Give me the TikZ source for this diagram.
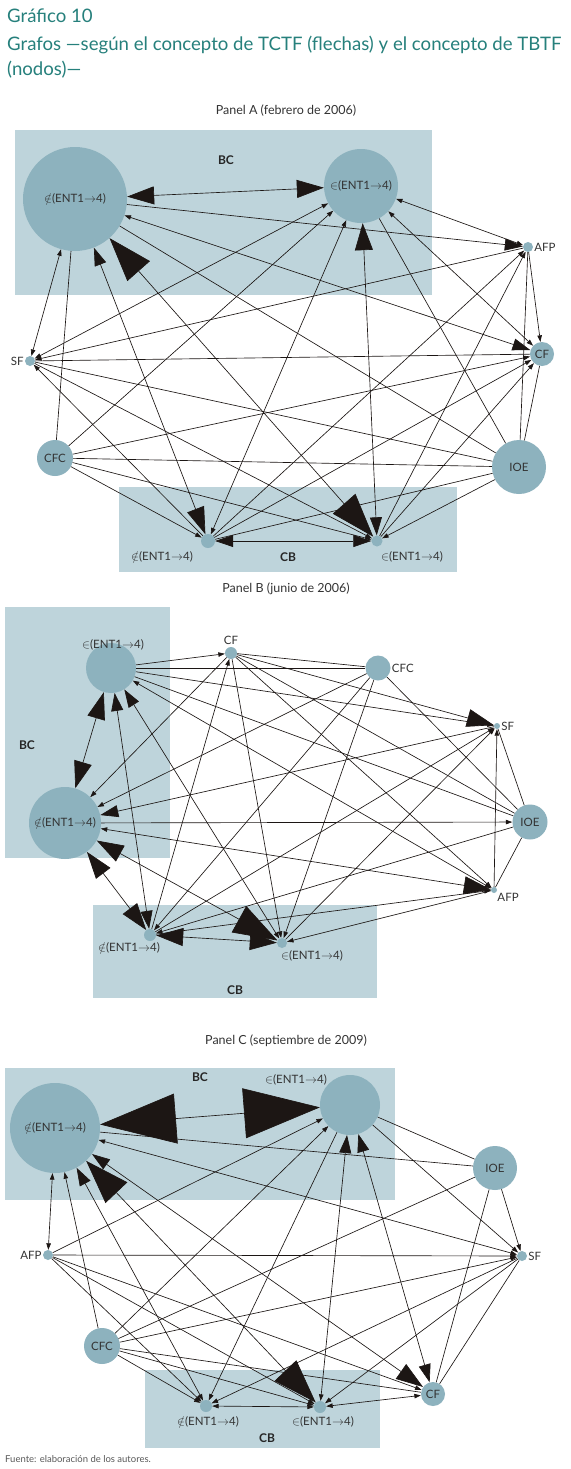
\documentclass[tikz,border=0pt]{standalone}
\usepackage{fontspec}
\setmainfont{Lato}
\usetikzlibrary{arrows.meta}
\definecolor{boxc}{RGB}{190,212,219}
\definecolor{nodec}{RGB}{141,178,190}
\definecolor{titc}{RGB}{38,128,124}
\definecolor{inkc}{RGB}{28,22,20}
\newcommand{\lbN}{$\notin$(ENT1$\rightarrow$4)}
\newcommand{\lbI}{$\in$(ENT1$\rightarrow$4)}
\tikzset{
  ts/.tip={Triangle[length=6.5pt,width=4.5pt]},
  tm/.tip={Triangle[length=18pt,width=12pt]},
  tb/.tip={Triangle[length=27pt,width=18pt]},
  th/.tip={Triangle[length=44pt,width=30pt]},
  tx/.tip={Triangle[length=76pt,width=50pt]},
  nd/.style={circle, fill=nodec, draw=none, inner sep=0pt, font=\fontsize{11.5}{13}\selectfont, text=black!80},
  lab/.style={font=\fontsize{11.5}{13}\selectfont, text=black!80, inner sep=1pt},
  grp/.style={fill=boxc, draw=none},
  grl/.style={font=\bfseries\fontsize{12}{13}\selectfont, text=black!85},
  ptitle/.style={font=\fontsize{12.5}{14}\selectfont, text=black!80, anchor=base},
  ttl/.style={anchor=base west, inner sep=0, text=titc, font=\fontsize{18.6}{21}\selectfont},
  ln/.style={draw=inkc, line width=0.65pt},
}
\begin{document}
\begin{tikzpicture}[x=1pt,y=-1pt]
\useasboundingbox[fill=white] (0,0) rectangle (570,1469);
% ---------- titles ----------
\node[ttl] (t1) at (7,23) {Gráfico 10};
\node[ttl] (t2) at (7,51) {Grafos —según el concepto de TCTF (flechas) y el concepto de TBTF};
\node[ttl] (t3) at (7,76) {(nodos)—};

% ================= PANEL A =================
\node[ptitle] (pa) at (286,115) {Panel A (febrero de 2006)};
\fill[grp] (15,130) rectangle (432,295);
\fill[grp] (119,487) rectangle (457,572);
\node[grl] (bca) at (226,160) {BC};
\node[grl] (cba) at (288,557) {CB};
\node[nd, minimum size=104] (anb) at (75,199) {\lbN};
\node[nd, minimum size=74] (aib) at (361,186) {\lbI};
\node[nd, minimum size=10, label={[lab]right:AFP}] (aafp) at (528,247) {};
\node[nd, minimum size=24] (acf) at (542,354) {CF};
\node[nd, minimum size=10, label={[lab]left:SF}] (asf) at (30,361) {};
\node[nd, minimum size=36] (acfc) at (55,458) {CFC};
\node[nd, minimum size=54] (aioe) at (519,467) {IOE};
\node[nd, minimum size=14] (anc) at (208,541) {};
\node[nd, minimum size=11] (aic) at (377,541) {};
\node[lab] (anclab) at (162,557) {\lbN};
\node[lab] (aiclab) at (412,557) {\lbI};

\draw[ln, tb-tb] (anb) -- (aib);
\draw[ln, -tm] (anb) -- (aafp);
\draw[ln, ts-tm] (anb) -- (acf);
\draw[ln, ts-ts] (anb) -- (asf);
\draw[ln] (anb) -- (acfc);
\draw[ln, tm-tb] (anb) -- (anc);
\draw[ln, th-th] (anb) -- (aic);
\draw[ln] (anb) -- (aioe);
\draw[ln, ts-ts] (aib) -- (aafp);
\draw[ln, ts-ts] (aib) -- (acf);
\draw[ln] (aib) -- (aioe);
\draw[ln, ts-ts] (aib) -- (asf);
\draw[ln, ts-ts] (aib) -- (anc);
\draw[ln, -ts] (acfc) -- (aib);
\draw[ln, tb-tm] (aib) -- (aic);
\draw[ln, -ts] (aafp) -- (asf);
\draw[ln, -ts] (aafp) -- (acf);
\draw[ln] (aafp) -- (aioe);
\draw[ln] (acf) -- (aioe);
\draw[ln] (asf) -- (acf);
\draw[ln] (asf) -- (aioe);
\draw[ln, -ts] (asf) -- (aic);
\draw[ln, -ts] (anc) -- (asf);
\draw[ln, -ts] (acfc) -- (anc);
\draw[ln, -ts] (acfc) -- (aic);
\draw[ln] (acfc) -- (aioe);
\draw[ln, -ts] (acfc) -- (acf);
\draw[ln, -ts] (anc) -- (aafp);
\draw[ln, -ts] (anc) -- (acf);
\draw[ln] (anc) -- (aioe);
\draw[ln, tm-tm] (anc) -- (aic);
\draw[ln, -ts] (aic) -- (aafp);
\draw[ln, -ts] (aic) -- (acf);
\draw[ln, -ts] (aioe) -- (aic);

% ================= PANEL B =================
\node[ptitle] (pb) at (286,592) {Panel B (junio de 2006)};
\fill[grp] (5,607) rectangle (170,858);
\fill[grp] (93,905) rectangle (377,998);
\node[grl] (bcb) at (27,745) {BC};
\node[grl] (cbb) at (235,990) {CB};
\node[nd, minimum size=50] (bib) at (111,668) {};
\node[lab] (biblab) at (113,645) {\lbI};
\node[nd, minimum size=12] (bcf) at (231,653) {};
\node[lab] (bcflab) at (231,640) {CF};
\node[nd, minimum size=25, label={[lab, anchor=west]right:CFC}] (bcfc) at (378,668) {};
\node[nd, minimum size=6, label={[lab]right:SF}] (bsf) at (497,726) {};
\node[nd, minimum size=35] (bioe) at (530,822) {IOE};
\node[nd, minimum size=6, label={[lab]below right:AFP}] (bafp) at (494,890) {};
\node[nd, minimum size=12] (bnc) at (150,935) {};
\node[nd, minimum size=10] (bic) at (282,943) {};
\node[nd, minimum size=72] (bnb) at (65,823) {\lbN};
\node[lab] (bnclab) at (129,948) {\lbN};
\node[lab] (biclab) at (312,956) {\lbI};

\draw[ln, -ts] (bib) -- (bcf);
\draw[ln] (bib) -- (bcfc);
\draw[ln, -ts] (bib) -- (bsf);
\draw[ln] (bib) -- (bioe);
\draw[ln, ts-ts] (bib) -- (bafp);
\draw[ln, tb-tb] (bib) -- (bnb);
\draw[ln, tm-tm] (bib) -- (bnc);
\draw[ln, tm-ts] (bib) -- (bic);
\draw[ln, tb-tb] (bnb) -- (bnc);
\draw[ln, tb-th] (bnb) -- (bic);
\draw[ln, -ts] (bnb) -- (bioe);
\draw[ln, ts-tb] (bnb) -- (bafp);
\draw[ln, -ts] (bcf) -- (bnb);
\draw[ln, -tm] (bsf) -- (bnb);
\draw[ln] (bcf) -- (bcfc);
\draw[ln, -tb] (bcf) -- (bsf);
\draw[ln] (bcf) -- (bioe);
\draw[ln, -ts] (bcf) -- (bafp);
\draw[ln, -ts] (bcf) -- (bic);
\draw[ln, -ts] (bnc) -- (bcf);
\draw[ln, -ts] (bcfc) -- (bnb);
\draw[ln, -ts] (bcfc) -- (bnc);
\draw[ln, -ts] (bcfc) -- (bic);
\draw[ln] (bcfc) -- (bioe);
\draw[ln, -ts] (bnc) -- (bsf);
\draw[ln, -ts] (bic) -- (bsf);
\draw[ln, -ts] (bafp) -- (bsf);
\draw[ln] (bsf) -- (bioe);
\draw[ln, -ts] (bioe) -- (bnc);
\draw[ln] (bioe) -- (bafp);
\draw[ln, -ts] (bafp) -- (bic);
\draw[ln, -ts] (bnc) -- (bafp);
\draw[ln, tb-tb] (bnc) -- (bic);

% ================= PANEL C =================
\node[ptitle] (pc) at (286,1044) {Panel C (septiembre de 2009)};
\fill[grp] (5,1068) rectangle (395,1200);
\fill[grp] (145,1370) rectangle (380,1448);
\node[grl] (bcc) at (200,1077) {BC};
\node[grl] (cbc) at (267,1438) {CB};
\node[nd, minimum size=90] (cnb) at (55,1128) {\lbN};
\node[nd, minimum size=60] (cib) at (350,1105) {};
\node[lab] (ciblab) at (296,1080) {\lbI};
\node[nd, minimum size=44] (cioe) at (495,1168) {IOE};
\node[nd, minimum size=10, label={[lab]left:AFP}] (cafp) at (48,1255) {};
\node[nd, minimum size=10, label={[lab]right:SF}] (csf) at (522,1256) {};
\node[nd, minimum size=36] (ccfc) at (102,1346) {CFC};
\node[nd, minimum size=24] (ccf) at (433,1394) {CF};
\node[nd, minimum size=12] (cnc) at (206,1406) {};
\node[nd, minimum size=12] (cic) at (320,1407) {};
\node[lab] (cnclab) at (208,1422) {\lbN};
\node[lab] (ciclab) at (323,1422) {\lbI};

\draw[ln, tx-tx] (cnb) -- (cib);
\draw[ln] (cnb) -- (cioe);
\draw[ln, ts-ts] (cnb) -- (csf);
\draw[ln, ts-ts] (cnb) -- (cafp);
\draw[ln, -ts] (ccfc) -- (cnb);
\draw[ln, tm-ts] (cnb) -- (cnc);
\draw[ln, th-th] (cnb) -- (cic);
\draw[ln, tm-tb] (cnb) -- (ccf);
\draw[ln] (cib) -- (cioe);
\draw[ln, -ts] (cib) -- (csf);
\draw[ln, tm-tm] (cib) -- (ccf);
\draw[ln, tm-ts] (cib) -- (cic);
\draw[ln, -ts] (cafp) -- (cib);
\draw[ln, -ts] (cib) -- (cnc);
\draw[ln, -ts] (ccfc) -- (cib);
\draw[ln] (cioe) -- (ccfc);
\draw[ln, -ts] (cioe) -- (csf);
\draw[ln] (cioe) -- (ccf);
\draw[ln, -ts] (cafp) -- (csf);
\draw[ln, -ts] (cafp) -- (cnc);
\draw[ln, -ts] (cafp) -- (cic);
\draw[ln, -ts] (cafp) -- (ccf);
\draw[ln, -ts] (ccfc) -- (csf);
\draw[ln, -ts] (ccfc) -- (cnc);
\draw[ln, -ts] (ccfc) -- (cic);
\draw[ln] (ccfc) -- (ccf);
\draw[ln, -ts] (csf) -- (cnc);
\draw[ln, -ts] (csf) -- (cic);
\draw[ln] (csf) -- (ccf);
\draw[ln, ts-ts] (cnc) -- (cic);
\draw[ln, ts-ts] (cic) -- (ccf);

\node[anchor=base west, inner sep=0, text=black!65, font=\fontsize{9.5}{11}\selectfont] (src) at (5,1462) {Fuente: elaboración de los autores.};
\end{tikzpicture}
\end{document}
